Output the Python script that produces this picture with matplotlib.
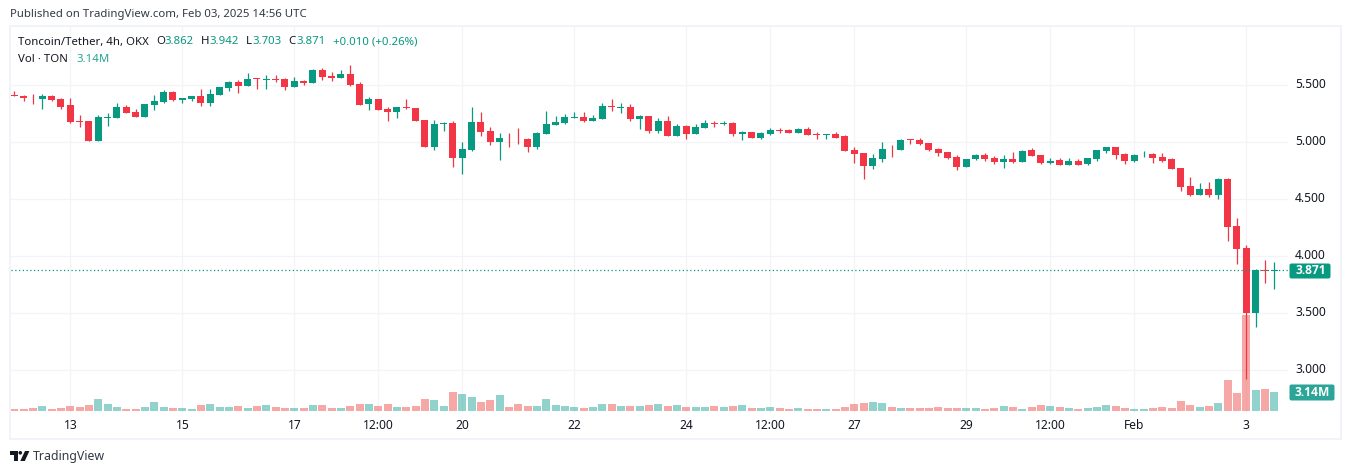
import matplotlib
matplotlib.use("Agg")
import matplotlib.pyplot as plt
from matplotlib.patches import Rectangle, FancyBboxPatch, Polygon, Circle
from matplotlib.transforms import Affine2D

opens = [5.405,5.400,5.385,5.371,5.397,5.371,5.318,5.176,5.176,5.003,5.206,5.203,5.300,5.256,5.212,5.318,5.344,5.432,5.362,5.371,
5.397,5.335,5.406,5.468,5.521,5.485,5.556,5.541,5.547,5.547,5.476,5.529,5.512,5.626,5.574,5.556,5.591,5.503,5.326,5.371,
5.282,5.256,5.300,5.291,5.185,4.956,5.153,5.159,4.859,4.929,5.168,5.088,5.000,5.035,5.035,5.026,4.956,5.062,5.141,5.159,
5.203,5.212,5.176,5.194,5.309,5.291,5.300,5.194,5.221,5.088,5.176,5.044,5.132,5.062,5.115,5.159,5.156,5.159,5.062,5.079,
5.035,5.062,5.097,5.097,5.071,5.106,5.065,5.056,5.062,5.044,4.929,4.903,4.788,4.850,4.938,4.929,5.018,5.009,4.991,4.938,
4.912,4.868,4.779,4.846,4.882,4.855,4.820,4.846,4.820,4.925,4.882,4.811,4.838,4.794,4.829,4.803,4.846,4.917,4.952,4.890,
4.829,4.887,4.890,4.864,4.846,4.768,4.610,4.531,4.583,4.531,4.671,4.259,4.066,3.496,3.873,3.862]
closes = [5.400,5.382,5.379,5.397,5.362,5.303,5.171,5.171,5.003,5.212,5.212,5.300,5.247,5.212,5.326,5.353,5.432,5.362,5.379,5.397,
5.335,5.415,5.476,5.521,5.485,5.547,5.550,5.547,5.538,5.476,5.529,5.515,5.626,5.565,5.559,5.591,5.494,5.318,5.371,5.274,
5.256,5.300,5.291,5.176,4.956,5.150,5.162,4.859,4.938,5.168,5.079,5.000,5.035,5.029,5.029,4.956,5.071,5.150,5.168,5.212,
5.212,5.176,5.203,5.309,5.300,5.300,5.194,5.221,5.088,5.176,5.044,5.132,5.062,5.124,5.159,5.153,5.162,5.062,5.079,5.035,
5.071,5.097,5.091,5.071,5.106,5.053,5.059,5.062,5.035,4.921,4.894,4.788,4.859,4.938,4.932,5.009,5.012,4.982,4.929,4.903,
4.859,4.779,4.850,4.882,4.846,4.820,4.846,4.820,4.917,4.873,4.811,4.829,4.794,4.829,4.794,4.855,4.925,4.952,4.882,4.829,
4.882,4.893,4.855,4.829,4.759,4.601,4.531,4.583,4.531,4.671,4.250,4.057,3.496,3.871,3.862,3.871]
highs = [5.441,5.409,5.415,5.415,5.406,5.379,5.379,5.229,5.182,5.229,5.247,5.335,5.318,5.282,5.332,5.406,5.450,5.441,5.379,5.397,
5.459,5.459,5.476,5.529,5.538,5.600,5.556,5.582,5.582,5.556,5.565,5.538,5.635,5.644,5.609,5.626,5.671,5.521,5.388,5.371,
5.300,5.300,5.371,5.291,5.185,5.185,5.168,5.176,5.000,5.300,5.256,5.124,5.071,5.071,5.115,5.035,5.079,5.265,5.221,5.238,
5.256,5.256,5.229,5.335,5.371,5.335,5.326,5.229,5.221,5.203,5.221,5.150,5.141,5.150,5.185,5.176,5.176,5.168,5.088,5.079,
5.079,5.115,5.115,5.106,5.115,5.124,5.079,5.062,5.079,5.053,4.956,4.903,4.894,5.000,4.965,5.026,5.026,5.035,4.991,4.947,
4.912,4.885,4.850,4.890,4.899,4.873,4.882,4.908,4.925,4.943,4.882,4.855,4.855,4.855,4.846,4.855,4.925,4.952,4.952,4.899,
4.890,4.917,4.899,4.899,4.855,4.768,4.689,4.636,4.645,4.680,4.680,4.329,4.092,3.882,3.960,3.942]
lows = [5.400,5.356,5.329,5.285,5.353,5.285,5.162,5.126,5.003,5.003,5.135,5.203,5.247,5.212,5.212,5.274,5.335,5.353,5.335,5.353,
5.309,5.309,5.406,5.441,5.424,5.485,5.459,5.459,5.521,5.450,5.476,5.494,5.512,5.538,5.529,5.556,5.485,5.318,5.274,5.274,
5.176,5.203,5.282,5.176,4.956,4.929,5.088,4.779,4.718,4.921,5.044,4.965,4.841,4.956,4.982,4.912,4.938,5.062,5.141,5.150,
5.203,5.168,5.176,5.194,5.265,5.247,5.176,5.109,5.071,5.071,5.044,5.044,5.026,5.062,5.115,5.124,5.141,5.044,5.009,5.035,
5.026,5.053,5.071,5.071,5.071,5.053,5.026,5.026,5.035,4.921,4.815,4.674,4.762,4.824,4.868,4.929,4.974,4.965,4.921,4.876,
4.850,4.753,4.779,4.838,4.829,4.803,4.768,4.811,4.820,4.873,4.803,4.803,4.794,4.794,4.794,4.794,4.829,4.899,4.846,4.803,
4.820,4.864,4.811,4.820,4.759,4.566,4.522,4.531,4.513,4.496,4.127,3.925,2.917,3.374,3.759,3.703]
volumes = [0.33,0.33,0.50,0.83,0.33,0.50,0.83,0.66,0.99,1.98,1.16,0.66,0.33,0.33,0.66,1.49,0.66,0.50,0.50,0.33,
0.99,1.16,0.66,0.66,0.83,0.50,0.83,0.99,0.66,0.50,0.50,0.50,0.99,0.99,0.50,0.50,0.83,1.16,1.16,0.83,
1.16,0.66,0.66,0.83,1.98,1.82,0.83,3.14,2.81,2.31,1.49,1.82,2.64,0.66,1.16,0.83,0.83,1.98,0.99,0.83,
0.66,0.50,0.66,1.16,1.16,0.83,0.83,0.83,0.99,1.16,0.83,0.99,0.66,0.66,0.66,0.83,0.66,0.83,0.99,0.50,
0.50,0.66,0.50,0.33,0.50,0.33,0.33,0.33,0.33,0.66,1.16,1.32,1.49,1.32,0.66,0.50,0.50,0.50,0.50,0.66,
0.50,0.50,0.50,0.50,0.33,0.50,0.83,0.66,0.33,0.66,0.99,0.83,0.66,0.50,0.33,0.50,0.66,0.99,0.83,0.50,
0.33,0.33,0.50,0.66,0.50,1.65,0.99,0.66,0.83,1.32,5.12,2.98,15.87,3.47,3.64,3.14]
price_ticks = [3.0, 3.5, 4.0, 4.5, 5.0, 5.5]
time_ticks = [6, 18, 30, 39, 48, 60, 72, 81, 90, 102, 111, 120, 132]
time_labels = ["13", "15", "17", "12:00", "20", "22", "24", "12:00", "27", "29", "12:00", "Feb", "3"]
last_close = 3.871
last_volume = 3.14

FONT = ["Noto Sans", "DejaVu Sans"]
plt.rcParams["font.family"] = FONT
UP, DOWN = "#089981", "#F23645"
VUP, VDOWN = "#26a69a", "#ef5350"
GRID, FRAME = "#f3f4f7", "#f0f3fa"
TXT = "#131722"
W, H = 1352, 474
FS = 12 * 72 / 100
FS_HEAD = 11.4 * 72 / 100

fig = plt.figure(figsize=(W / 100, H / 100), dpi=100, facecolor="white")
px = Affine2D().scale(1, -1).translate(0, H)

L, R, T, B = 11, 1288, 27, 413
rect = [L / W, 1 - B / H, (R - L) / W, (B - T) / H]
xlim = ((L - 14.33) / 9.333, (R - 14.33) / 9.333)
ylim = (5 - (B - 141.5) / 114, 5 - (T - 141.5) / 114)

fig.add_artist(Rectangle((10, 26), 1331, 413, transform=px, fill=False, ec=FRAME, lw=1.44))

ax_grid = fig.add_axes(rect, zorder=0)
ax_vol = fig.add_axes(rect, zorder=1)
ax_price = fig.add_axes(rect, zorder=2)

for ax in (ax_grid, ax_vol, ax_price):
    ax.set_xlim(xlim)
    for s in ax.spines.values():
        s.set_visible(False)
ax_price.set_ylim(ylim)
ax_grid.set_ylim(ylim)
ax_vol.set_ylim(-2 * 3.14 / 19, (411 - T) * 3.14 / 19)
ax_vol.patch.set_visible(False)
ax_price.patch.set_visible(False)
ax_vol.set_xticks([]); ax_vol.set_yticks([])
ax_price.set_xticks([]); ax_price.set_yticks([])

ax_grid.set_xticks(time_ticks, time_labels)
ax_grid.yaxis.tick_right()
ax_grid.set_yticks(price_ticks, [f"{p:.3f}" for p in price_ticks])
ax_grid.tick_params(axis="both", length=0, labelsize=FS, labelcolor=TXT)
ax_grid.tick_params(axis="x", pad=4)
ax_grid.tick_params(axis="y", pad=5)
ax_grid.grid(True, color=GRID, lw=0.9)
ax_grid.set_axisbelow(True)
for lab in ax_grid.get_yticklabels():
    lab.set_va("center")
for lab in ax_grid.get_xticklabels():
    if lab.get_text() == "Feb":
        lab.set_fontweight("medium")

xs = list(range(len(opens)))
colors = [UP if c >= o else DOWN for o, c in zip(opens, closes)]
vcolors = [VUP if c >= o else VDOWN for o, c in zip(opens, closes)]

ax_vol.bar(xs, volumes, width=0.87, color=vcolors, alpha=0.5, lw=0)
ax_price.vlines(xs, lows, highs, colors=colors, lw=0.9)
ax_price.bar(xs, [max(abs(c - o), 0.006) for o, c in zip(opens, closes)],
             bottom=[min(o, c) for o, c in zip(opens, closes)],
             width=0.75, color=colors, lw=0)
ax_price.axhline(last_close, color=UP, lw=0.9, ls=(0, (1, 2)))

# header texts
fig.text(10, 15, "Published on TradingView.com, Feb 03, 2025 14:56 UTC", transform=px,
         fontsize=FS_HEAD, color="#333a45", va="center")
fig.text(18, 42, "Toncoin/Tether, 4h, OKX", transform=px, fontsize=FS_HEAD, color=TXT, va="center")
for x, s, c in [(156, "O", TXT), (164, "3.862", UP), (201, "H", TXT), (209, "3.942", UP),
                (246, "L", TXT), (252, "3.703", UP), (288.5, "C", TXT), (296, "3.871", UP),
                (333, "+0.010 (+0.26%)", UP)]:
    fig.text(x, 42, s, transform=px, fontsize=FS_HEAD, color=c, va="center")
fig.text(18, 59, "Vol · TON", transform=px, fontsize=FS_HEAD, color=TXT, va="center")
fig.text(76, 59, "3.14M", transform=px, fontsize=FS_HEAD, color=VUP, va="center")

# value labels on the scale
fig.add_artist(FancyBboxPatch((1290, 264), 40, 14, boxstyle="round,pad=0.5,rounding_size=2",
                              transform=px, fc=UP, ec="none"))
fig.text(1310.5, 271, f"{last_close:.3f}", transform=px, fontsize=FS, color="white",
         va="center", ha="center", fontweight="bold", family=["Open Sans", "DejaVu Sans"])
fig.add_artist(FancyBboxPatch((1290, 385), 44, 15, boxstyle="round,pad=0.5,rounding_size=2",
                              transform=px, fc="#2aa597", ec="none"))
fig.text(1312, 392.5, f"{last_volume:.2f}M", transform=px, fontsize=FS, color="white",
         va="center", ha="center", fontweight="bold", family=["Open Sans", "DejaVu Sans"])

# logo
LOGO = "#131722"
fig.add_artist(Polygon([(10, 451), (18, 451), (18, 461), (14, 461), (14, 454.5), (10, 454.5)],
                       transform=px, fc=LOGO, ec="none"))
fig.add_artist(Circle((20.3, 452.8), 1.8, transform=px, fc=LOGO, ec="none"))
fig.add_artist(Polygon([(25, 451), (29.4, 451), (24.8, 461), (20.3, 461)],
                       transform=px, fc=LOGO, ec="none"))
fig.text(33, 456.5, "TradingView", transform=px, fontsize=12.4 * 72 / 100, color="#333a45", va="center")

fig.savefig("out.png", dpi=100)
